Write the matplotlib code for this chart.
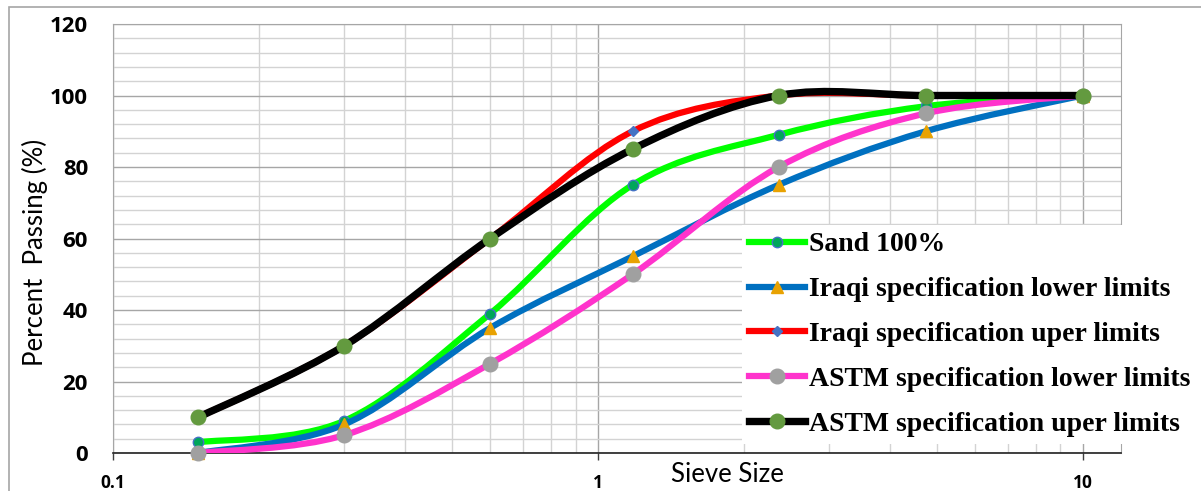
import numpy as np
import matplotlib.pyplot as plt
from matplotlib.path import Path
from matplotlib.patches import PathPatch, Rectangle
from matplotlib.lines import Line2D
from matplotlib.ticker import FixedLocator, NullFormatter

# sieve sizes (mm) and percent passing
sieve = [0.15, 0.3, 0.6, 1.18, 2.36, 4.75, 10]
sand = [3, 9, 39, 75, 89, 97, 100]
iraqi_low = [0, 8, 35, 55, 75, 90, 100]
iraqi_up = [10, 30, 60, 90, 100, 100, 100]
astm_low = [0, 5, 25, 50, 80, 95, 100]
astm_up = [10, 30, 60, 85, 100, 100, 100]

labels = ['Sand 100%', 'Iraqi specification lower limits',
          'Iraqi specification uper limits', 'ASTM specification lower limits',
          'ASTM specification uper limits']
yticks = [0, 20, 40, 60, 80, 100, 120]


def smooth_path(xs, ys):
    # Excel-like smoothed line, cubic bezier segments in (log x, y)
    u = np.log10(xs)
    v = np.asarray(ys, float)
    n = len(u)
    verts = [(u[0], v[0])]
    for i in range(n - 1):
        i0 = max(i - 1, 0)
        i3 = min(i + 2, n - 1)
        c1 = (u[i] + (u[i + 1] - u[i0]) / 6, v[i] + (v[i + 1] - v[i0]) / 6)
        c2 = (u[i + 1] - (u[i3] - u[i]) / 6, v[i + 1] - (v[i3] - v[i]) / 6)
        verts += [c1, c2, (u[i + 1], v[i + 1])]
    verts = np.array(verts)
    verts[:, 0] = 10 ** verts[:, 0]
    codes = [Path.MOVETO] + [Path.CURVE4] * (3 * (n - 1))
    return Path(verts, codes)


# series styles: line colour, line width, marker, marker face, marker edge, marker size
styles = [
    ('#00FF00', 4.5, 'o', '#00A65A', '#4472C4', 7.5),
    ('#0070C0', 4.5, '^', '#E8A202', '#E8A202', 8),
    ('#FF0000', 4.5, 'D', '#4472C4', '#4472C4', 5.5),
    ('#FF33CC', 4.5, 'o', '#A0A0A0', '#A0A0A0', 10.5),
    ('#000000', 5.3, 'o', '#639A3F', '#639A3F', 10.5),
]
series = [sand, iraqi_low, iraqi_up, astm_low, astm_up]

fig = plt.figure(figsize=(12.01, 4.91), dpi=100)
ax = fig.add_axes([113 / 1201, 1 - 453 / 491, (1121 - 113) / 1201, (453 - 24) / 491])

ax.set_xscale('log')
ax.set_xlim(0.1, 12)
ax.set_ylim(0, 120)

handles = []
for k, (vals, st) in enumerate(zip(series, styles)):
    col, lw, mk, mfc, mec, ms = st
    patch = PathPatch(smooth_path(sieve, vals), fill=False, edgecolor=col,
                      linewidth=lw, capstyle='round', joinstyle='round', zorder=3 + 2 * k)
    ax.add_patch(patch)
    ax.plot(sieve, vals, linestyle='none', marker=mk, markerfacecolor=mfc,
            markeredgecolor=mec, markersize=ms, markeredgewidth=1, zorder=4 + 2 * k,
            clip_on=False)
    handles.append(Line2D([], [], color=col, lw=lw, marker=mk, markerfacecolor=mfc,
                          markeredgecolor=mec, markersize=ms))

# grid
ax.yaxis.set_major_locator(FixedLocator(yticks))
ax.yaxis.set_minor_locator(FixedLocator(np.arange(0, 121, 4)))
ax.grid(True, which='major', axis='y', color='#A6A6A6', lw=1.0)
ax.grid(True, which='minor', axis='y', color='#D3D3D3', lw=1.0)
ax.grid(True, which='major', axis='x', color='#A6A6A6', lw=1.0)
ax.grid(True, which='minor', axis='x', color='#D3D3D3', lw=1.0)
ax.set_axisbelow(True)
ax.xaxis.set_minor_formatter(NullFormatter())
ax.set_xticks([0.1, 1, 10])
ax.set_xticklabels(['0.1', '1', '10'])

ax.tick_params(axis='y', which='both', length=0, pad=18)
ax.tick_params(axis='x', which='major', length=5, width=1, color='#404040',
               direction='out', pad=10)
ax.tick_params(axis='x', which='minor', length=0)
for t in ax.get_yticklabels():
    t.set_fontfamily('Open Sans')
    t.set_fontweight('bold')
    t.set_fontsize(16)
for t in ax.get_xticklabels():
    t.set_fontfamily('Open Sans')
    t.set_fontweight('bold')
    t.set_fontsize(12.5)

for s in ['top', 'right', 'left']:
    ax.spines[s].set_color('#A6A6A6')
ax.spines['bottom'].set_color('#202020')
ax.spines['bottom'].set_linewidth(1.2)

fig.text(35 / 1201, 1 - 252 / 491, 'Percent  Passing (%)', rotation=90,
         ha='center', va='center', fontsize=18.5, family='Lato')
fig.text(727 / 1201, 1 - 474 / 491, 'Sieve Size', ha='center', va='center',
         fontsize=18.5, family='Lato')

leg = fig.legend(handles, labels, loc='upper left',
                 bbox_to_anchor=(742 / 1201, 1 - 225 / 491),
                 prop={'family': 'Liberation Serif', 'weight': 'bold', 'size': 20},
                 frameon=True, facecolor='white', edgecolor='none', framealpha=1,
                 fancybox=False, borderpad=0.25, borderaxespad=0,
                 handlelength=2.0, handletextpad=0.15, labelspacing=0.7)

# outer chart border
fig.patches.append(Rectangle((9 / 1201, -0.1), 1.2, 1 - 7 / 491 + 0.1,
                             transform=fig.transFigure, fill=False,
                             edgecolor='#A6A6A6', lw=1.2))

plt.savefig('out.png', dpi=100)
